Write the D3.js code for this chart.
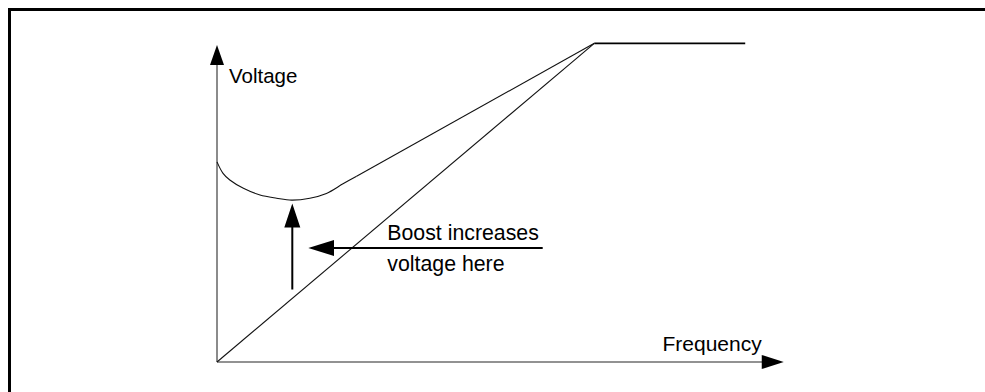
<!DOCTYPE html>
<html>
<head>
<meta charset="utf-8">
<script src="https://cdn.jsdelivr.net/npm/d3@7"></script>
<style>
  body { margin: 0; background: #fff; }
  svg text { font-family: "Liberation Sans", Arial, sans-serif; fill: #000; }
</style>
</head>
<body>
<div id="chart"></div>
<script>
// V/f curve: frequency (Hz) vs voltage (%)
var vfFreq = [0, 50, 70];
var vfVolt = [0, 100, 100];

// boosted curve near low frequency, then straight to the knee
var boostFreq = [0, 0.8, 1.7, 3.5, 5.7, 7.9, 9.9, 12.3, 14.5, 16.7, 18.5];
var boostVolt = [62.8, 59.2, 57.1, 54.5, 52.4, 51.4, 50.8, 51.4, 52.9, 55.9, 58.3];
var kneeFreq = 50, kneeVolt = 100;

var axisMax = { freq: 75, volt: 99.5 };

var labels = {
    y: "Voltage",
    x: "Frequency",
    note: ["Boost increases", "voltage here"]
};

function drawChart(selector){
    var width = 985, height = 392;

    d3.select(selector).html(null)

    var svg = d3.select(selector)
        .append("svg")
        .attr("width", width)
        .attr("height", height)

    // frame (clipped at right and bottom like the reference)
    svg.append("rect")
        .attr("x", 9.5).attr("y", 9.5)
        .attr("width", 1000).attr("height", 420)
        .attr("fill", "none")
        .attr("stroke", "#000")
        .attr("stroke-width", 3)

    var x = d3.scaleLinear().domain([0, 50]).range([217, 594.3])
    var y = d3.scaleLinear().domain([0, 100]).range([362, 43.3])

    // axes drawn as plain arrows
    var axisColor = "#6e6e6e";
    svg.append("line")
        .attr("x1", x(0)).attr("y1", y(0))
        .attr("x2", x(0)).attr("y2", y(axisMax.volt) + 18)
        .attr("stroke", axisColor).attr("stroke-width", 1.6)
    svg.append("line")
        .attr("x1", x(0)).attr("y1", y(0))
        .attr("x2", x(axisMax.freq) - 20).attr("y2", y(0))
        .attr("stroke", axisColor).attr("stroke-width", 1.6)

    // y arrow head
    var yTip = y(axisMax.volt);
    svg.append("path")
        .attr("d", "M" + x(0) + "," + yTip + " L" + (x(0) - 7) + "," + (yTip + 20) +
              " L" + (x(0) + 7) + "," + (yTip + 20) + "Z")
        .attr("fill", "#000")
    // x arrow head
    var xTip = x(axisMax.freq) + 0.8;
    svg.append("path")
        .attr("d", "M" + xTip + "," + y(0) + " L" + (xTip - 22) + "," + (y(0) - 7) +
              " L" + (xTip - 22) + "," + (y(0) + 7) + "Z")
        .attr("fill", "#000")

    // straight V/f line
    var line = d3.line()
        .x(function(d){ return x(d[0]); })
        .y(function(d){ return y(d[1]); })

    svg.append("path")
        .datum(d3.zip(vfFreq.slice(0, 2), vfVolt.slice(0, 2)))
        .attr("d", line)
        .attr("fill", "none").attr("stroke", "#111").attr("stroke-width", 1.1)
    svg.append("path")
        .datum(d3.zip(vfFreq.slice(1), vfVolt.slice(1)))
        .attr("d", line)
        .attr("fill", "none").attr("stroke", "#000").attr("stroke-width", 1.8)

    // boost curve
    var curve = d3.line()
        .curve(d3.curveCatmullRom.alpha(0.5))
        .x(function(d){ return x(d[0]); })
        .y(function(d){ return y(d[1]); })
    svg.append("path")
        .datum(d3.zip(boostFreq, boostVolt))
        .attr("d", curve)
        .attr("fill", "none").attr("stroke", "#111").attr("stroke-width", 1.1)
    svg.append("path")
        .datum([[boostFreq[boostFreq.length - 1], boostVolt[boostVolt.length - 1]], [kneeFreq, kneeVolt]])
        .attr("d", line)
        .attr("fill", "none").attr("stroke", "#111").attr("stroke-width", 1.1)

    // vertical boost arrow
    var ax = 292.3;
    svg.append("line")
        .attr("x1", ax).attr("y1", 289.5).attr("x2", ax).attr("y2", 226)
        .attr("stroke", "#000").attr("stroke-width", 2)
    svg.append("path")
        .attr("d", "M" + ax + ",203.5 L" + (ax - 8) + ",227.5 L" + (ax + 8) + ",227.5Z")
        .attr("fill", "#000")

    // horizontal pointer arrow
    var ay = 248;
    svg.append("line")
        .attr("x1", 542.7).attr("y1", ay).attr("x2", 332).attr("y2", ay)
        .attr("stroke", "#000").attr("stroke-width", 2)
    svg.append("path")
        .attr("d", "M308.3," + ay + " L334," + (ay - 8) + " L334," + (ay + 8) + "Z")
        .attr("fill", "#000")

    // labels
    svg.append("text").attr("x", 229).attr("y", 83)
        .style("font-size", "20.5px").text(labels.y)
    svg.append("text").attr("x", 662.5).attr("y", 350.5)
        .style("font-size", "21px").text(labels.x)
    svg.append("text").attr("x", 387.3).attr("y", 240)
        .style("font-size", "21.3px").text(labels.note[0])
    svg.append("text").attr("x", 387.3).attr("y", 270.7)
        .style("font-size", "21.3px").text(labels.note[1])
}

drawChart("#chart")
</script>
</body>
</html>
